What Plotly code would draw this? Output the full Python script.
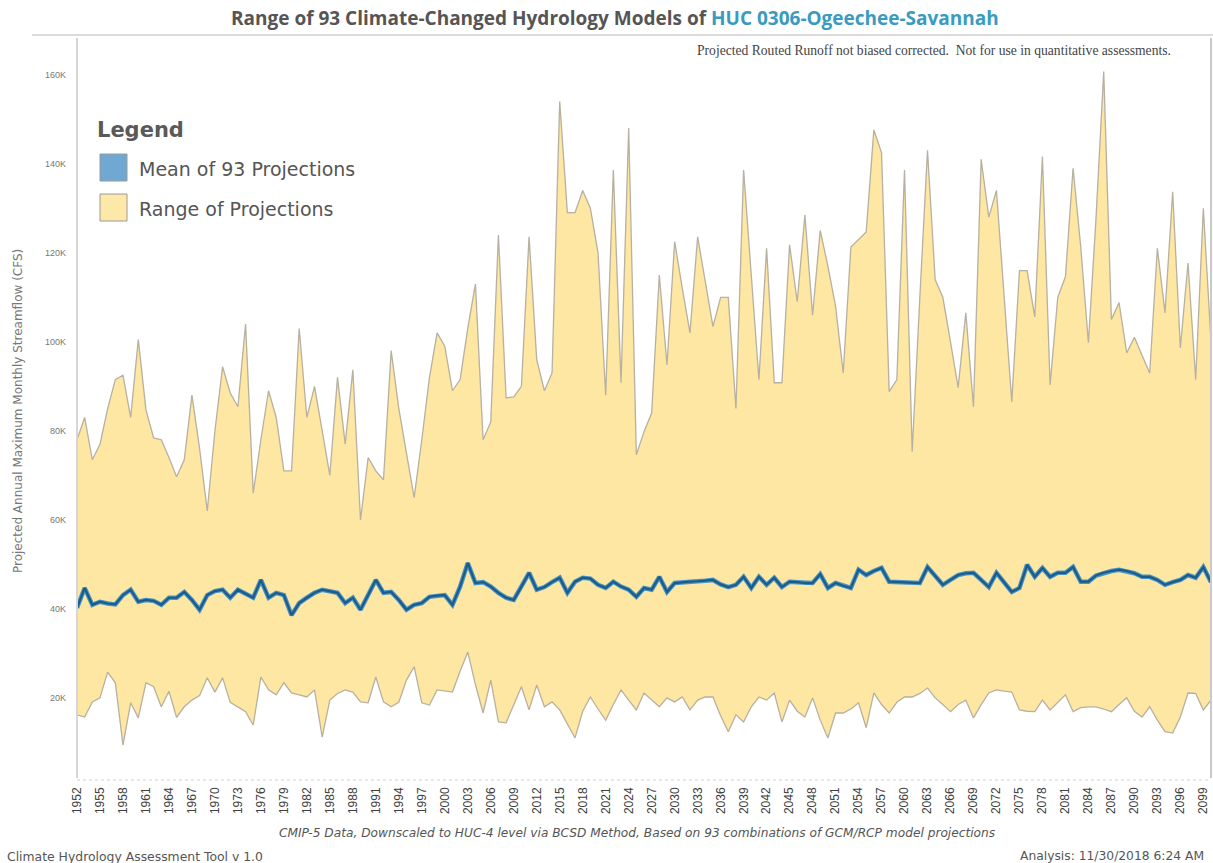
import plotly.graph_objects as go

# Water years on the horizontal axis
years = list(range(1952, 2101))

# Projected annual maximum monthly streamflow, thousands of CFS
range_high = [
    78, 83, 73.5, 77, 85, 91.5, 92.5, 83, 100.5, 84.7,
    78.4, 78, 74, 69.7, 73.5, 88, 76, 62, 80, 94.4,
    88.5, 85.4, 104, 66, 78, 89, 83, 71, 71, 103,
    83, 90, 80, 70, 92, 77, 93.7, 60, 74, 71,
    69, 98, 85, 75, 65, 78, 92, 102, 99, 89,
    91.5, 103, 113, 78, 82, 124, 87.4, 87.6, 90, 123.6,
    96, 89, 93, 154, 129, 129, 134, 130, 120, 88,
    138.6, 90.8, 148, 74.6, 79.8, 84, 115, 94.8, 122.5, 112,
    102, 123.6, 113, 103.4, 110, 110, 85, 138.6, 115, 91.5,
    121, 90.8, 90.8, 121.8, 109, 128.5, 106, 125, 117, 108,
    93, 121.3, 123, 124.7, 147.6, 142.5, 88.8, 91.5, 138.6, 75.3,
    110, 143, 114, 110, 100, 89.7, 106.5, 85.4, 141, 128,
    134, 110, 86.5, 116, 116, 105.6, 141.6, 90.3, 110, 114.6,
    139, 121.3, 99.8, 128, 160.7, 105, 108.8, 97.5, 101, 97,
    93, 121, 106.5, 133.7, 98.6, 117.7, 91.5, 130, 100,
]

mean_proj = [
    40.2, 44.7, 40.9, 41.6, 41.2, 41, 43.1, 44.3, 41.6, 42,
    41.8, 40.9, 42.5, 42.5, 43.8, 42, 39.8, 43.1, 44, 44.3,
    42.5, 44.3, 43.4, 42.5, 46.5, 42.5, 43.6, 43.1, 38.6, 41.3,
    42.5, 43.6, 44.3, 44, 43.6, 41.3, 42.5, 39.8, 43, 46.5,
    43.6, 43.8, 42, 39.8, 40.9, 41.3, 42.7, 43, 43.1, 40.9,
    45, 50.3, 45.8, 46, 45, 43.6, 42.5, 42, 45, 48.1,
    44.3, 44.9, 46, 47, 43.6, 46.1, 47, 46.8, 45.4, 44.7,
    46.1, 45, 44.3, 42.7, 44.7, 44.3, 47.2, 43.8, 45.8, 46,
    46.1, 46.2, 46.3, 46.5, 45.5, 44.9, 45.4, 47.2, 44.7, 47.2,
    45.4, 47, 44.9, 46.1, 46, 45.8, 45.8, 47.8, 44.7, 45.8,
    45.2, 44.7, 48.8, 47.6, 48.5, 49.2, 46.1, 46, 46, 45.8,
    45.8, 49.4, 47.4, 45.4, 46.5, 47.6, 48, 48.1, 46.5, 44.9,
    48.1, 46, 43.8, 44.7, 49.9, 47.2, 49.2, 47.2, 48.1, 48.1,
    49.4, 46.1, 46.1, 47.5, 48.1, 48.5, 48.8, 48.5, 48, 47.2,
    47.2, 46.5, 45.4, 46, 46.5, 47.6, 47, 49.4, 46,
]

range_low = [
    16.2, 15.7, 19.1, 20, 25.8, 23.4, 9.4, 18.9, 15.5, 23.4,
    22.5, 18, 21.5, 15.6, 18, 19.5, 20.5, 24.5, 21.3, 24.5,
    19, 18, 16.9, 13.9, 24.7, 21.8, 20.7, 23.4, 21.1, 20.7,
    20.2, 21.8, 11.2, 19.5, 21, 21.8, 21.3, 19.1, 18.9, 24.7,
    19.1, 18, 19, 24, 27, 18.9, 18.4, 21.8, 21.5, 21.3,
    26, 30.3, 23, 16.6, 24, 14.6, 14.4, 18.5, 22.5, 17.3,
    22.9, 18, 19.1, 17.3, 14, 11, 17, 20.2, 17.5, 15,
    18.5, 21.8, 19.5, 17.3, 21.1, 19.5, 18, 20, 19.1, 20.2,
    17.3, 19.5, 20.2, 20.2, 16, 12.4, 16.2, 14.6, 18, 20.2,
    19.5, 21.1, 14.6, 19.5, 17, 15.7, 20, 15, 11, 16.6,
    16.6, 17.5, 18.9, 13.3, 21.1, 18.5, 16.6, 19, 20.2, 20.2,
    21, 22.2, 20, 18.5, 16.9, 18.5, 19.5, 15.5, 18.5, 21.1,
    21.8, 21.5, 21.3, 17.3, 17, 16.9, 19.5, 17.3, 19, 20.7,
    16.9, 17.8, 18, 18, 17.5, 16.9, 18.5, 20, 17, 15.7,
    18, 15, 12.4, 12.1, 15.7, 21.1, 21, 17.3, 19.5,
]

tick_years = list(range(1952, 2100, 3))
y_ticks = [20, 40, 60, 80, 100, 120, 140, 160]
y_tick_text = ["20K", "40K", "60K", "80K", "100K", "120K", "140K", "160K"]

FILL = "#fde7a3"
EDGE = "#b8b0a0"
MEAN_OUTER = "#4393c9"
MEAN_INNER = "#1f5a84"
SANS = "Liberation Sans, Arial, sans-serif"
WIDE = "DejaVu Sans, Verdana, sans-serif"

W, H = 1213, 863
ML, MR, MT, MB = 77, 2, 36, 85
PW, PH = W - ML - MR, H - MT - MB


def px(x):
    return (x - ML) / PW


def py(y):
    return (H - MB - y) / PH


fig = go.Figure()

# yellow band between the lowest and highest projection
fig.add_trace(go.Scatter(x=years, y=range_low, mode="lines",
                         line=dict(width=0, color=FILL), hoverinfo="skip",
                         showlegend=False))
fig.add_trace(go.Scatter(x=years, y=range_high, mode="lines", fill="tonexty",
                         fillcolor=FILL, line=dict(width=0, color=FILL),
                         hoverinfo="skip", showlegend=False))
# band outlines
fig.add_trace(go.Scatter(x=years, y=range_low, mode="lines",
                         line=dict(width=1.3, color=EDGE), showlegend=False))
fig.add_trace(go.Scatter(x=years, y=range_high, mode="lines",
                         line=dict(width=1.3, color=EDGE), showlegend=False))
# mean of the projections, drawn with a lighter halo
fig.add_trace(go.Scatter(x=years, y=mean_proj, mode="lines",
                         line=dict(width=4.5, color=MEAN_OUTER), showlegend=False))
fig.add_trace(go.Scatter(x=years, y=mean_proj, mode="lines",
                         line=dict(width=2.2, color=MEAN_INNER), showlegend=False))

shapes = [
    # top rule above the plot area
    dict(type="line", xref="paper", yref="paper", x0=px(32), x1=px(1213),
         y0=py(35), y1=py(35), line=dict(color="#cfcfcf", width=1.5)),
    # left axis line
    dict(type="line", xref="paper", yref="paper", x0=0, x1=0, y0=0, y1=py(38),
         line=dict(color="#d6d6d6", width=2)),
    # right frame line
    dict(type="line", xref="paper", yref="paper", x0=1, x1=1, y0=0, y1=py(38),
         line=dict(color="#c9c9c9", width=2)),
    # dotted base line
    dict(type="line", xref="paper", yref="paper", x0=0, x1=1, y0=py(780), y1=py(780),
         line=dict(color="#d0d0d0", width=1, dash="dot")),
    # legend swatches
    dict(type="rect", xref="paper", yref="paper", x0=px(100), x1=px(127),
         y0=py(181), y1=py(154), fillcolor="#6fa8d2",
         line=dict(color="#9a9a9a", width=1)),
    dict(type="rect", xref="paper", yref="paper", x0=px(100), x1=px(127),
         y0=py(221), y1=py(194), fillcolor="#fde8a8",
         line=dict(color="#9a9a9a", width=1)),
]

annotations = [
    dict(text="Range of 93 Climate-Changed Hydrology Models of "
              "<span style='color:#3a9ac0'>HUC 0306-Ogeechee-Savannah</span>",
         x=px(615), y=py(18), xref="paper", yref="paper", showarrow=False,
         xanchor="center", yanchor="middle",
         font=dict(family="Open Sans, sans-serif", size=19, color="#555555",
                   weight="bold")),
    dict(text="Projected Routed Runoff not biased corrected.  Not for use in quantitative assessments.",
         x=px(1173), y=py(51), xref="paper", yref="paper", showarrow=False,
         xanchor="right", yanchor="middle",
         font=dict(family="Liberation Serif, Times New Roman, serif", size=13.6,
                   color="#444444")),
    dict(text="Projected Annual Maximum Monthly Streamflow (CFS)",
         x=px(18), y=py(411), xref="paper", yref="paper", showarrow=False,
         textangle=-90, xanchor="center", yanchor="middle",
         font=dict(family=WIDE, size=12, color="#777777")),
    dict(text="Legend", x=px(95), y=py(130), xref="paper", yref="paper",
         showarrow=False, xanchor="left", yanchor="middle",
         font=dict(family=WIDE, size=21, color="#595959", weight="bold")),
    dict(text="Mean of 93 Projections", x=px(137), y=py(169), xref="paper",
         yref="paper", showarrow=False, xanchor="left", yanchor="middle",
         font=dict(family=WIDE, size=19, color="#555555")),
    dict(text="Range of Projections", x=px(137), y=py(209), xref="paper",
         yref="paper", showarrow=False, xanchor="left", yanchor="middle",
         font=dict(family=WIDE, size=19, color="#555555")),
    dict(text="<i>CMIP-5 Data, Downscaled to HUC-4 level via BCSD Method, Based on 93 combinations of GCM/RCP model projections</i>",
         x=px(637), y=py(833), xref="paper", yref="paper", showarrow=False,
         xanchor="center", yanchor="middle",
         font=dict(family=WIDE, size=12.2, color="#555555")),
    dict(text="Climate Hydrology Assessment Tool v 1.0", x=px(5), y=py(856),
         xref="paper", yref="paper", showarrow=False, xanchor="left",
         yanchor="middle", font=dict(family=WIDE, size=12.4, color="#555555")),
    dict(text="Analysis: 11/30/2018 6:24 AM", x=px(1206), y=py(856),
         xref="paper", yref="paper", showarrow=False, xanchor="right",
         yanchor="middle", font=dict(family=WIDE, size=12.3, color="#555555")),
]

fig.update_layout(
    width=W, height=H,
    margin=dict(l=ML, r=MR, t=MT, b=MB, pad=0),
    paper_bgcolor="white", plot_bgcolor="white",
    showlegend=False,
    shapes=shapes,
    annotations=annotations,
    xaxis=dict(range=[1952, 2100], tickmode="array", tickvals=tick_years,
               tickangle=-90, showgrid=False, zeroline=False, showline=False,
               ticks="", ticklabelstandoff=6,
               tickfont=dict(family=SANS, size=12, color="#404040")),
    yaxis=dict(range=[2.0, 168.7], tickmode="array", tickvals=y_ticks,
               ticktext=y_tick_text, showgrid=False, zeroline=False,
               showline=False, ticks="", ticklabelstandoff=10,
               tickfont=dict(family=SANS, size=9, color="#777777")),
)

fig.write_html("out.html")
